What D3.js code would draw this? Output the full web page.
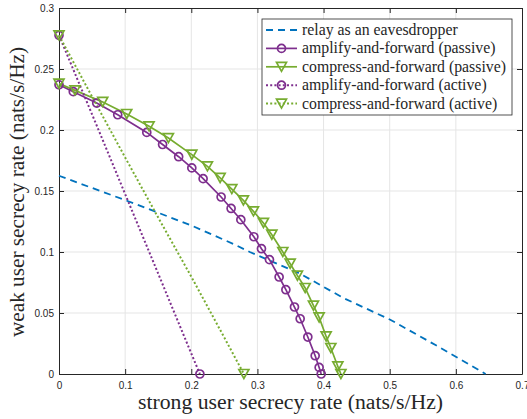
<!DOCTYPE html>
<html>
<head>
<meta charset="utf-8">
<script src="https://cdn.jsdelivr.net/npm/d3@7"></script>
<style>
body { margin: 0; background: #fff; }
.tick text { font-family: "Liberation Sans", Arial, sans-serif; font-size: 10px; fill: #262626; }
</style>
</head>
<body>
<div id="chart"></div>
<script>
var w = 527;
var h = 419;
var margin = {top: 8, right: 5, bottom: 45, left: 59};

// data (x = strong user rate, y = weak user rate)
var eveX = [0, 0.05, 0.1047, 0.2008, 0.266, 0.2885, 0.3646, 0.43, 0.5008, 0.57, 0.645];
var eveY = [0.1625, 0.1525, 0.1416, 0.1216, 0.106, 0.1, 0.0822, 0.0623, 0.0445, 0.0235, 0];

var afPassiveX = [0, 0.0216, 0.057, 0.0888, 0.1327, 0.1566, 0.1809, 0.2008, 0.2179, 0.2451, 0.2602, 0.2749,
    0.2946, 0.3061, 0.3182, 0.3328, 0.343, 0.356, 0.3646, 0.3762, 0.3873, 0.3933, 0.3964];
var afPassiveY = [0.2371, 0.2314, 0.2221, 0.2125, 0.198, 0.1881, 0.1781, 0.1689, 0.1601, 0.1451, 0.1357, 0.1265,
    0.1125, 0.1027, 0.0937, 0.0795, 0.0691, 0.0549, 0.0453, 0.0303, 0.015, 0.0054, 0];

var cfPassiveX = [0, 0.0242, 0.0661, 0.1024, 0.1362, 0.1654, 0.2008, 0.2244, 0.2436, 0.2613, 0.2788, 0.294,
    0.3091, 0.3218, 0.3384, 0.3495, 0.3605, 0.3722, 0.3847, 0.3933, 0.4039, 0.411, 0.4216, 0.4262];
var cfPassiveY = [0.238, 0.2325, 0.223, 0.2131, 0.203, 0.1934, 0.1798, 0.1702, 0.1607, 0.1516, 0.1423, 0.1333,
    0.1238, 0.1142, 0.1, 0.0904, 0.0806, 0.0705, 0.056, 0.0464, 0.0308, 0.0213, 0.0062, 0];

var afActiveX = [0, 0.05, 0.1, 0.15, 0.2, 0.213];
var afActiveY = [0.2776, 0.2128, 0.1475, 0.0822, 0.0168, 0];

var cfActiveX = [0, 0.05, 0.1, 0.15, 0.2, 0.25, 0.2795];
var cfActiveY = [0.2776, 0.2273, 0.1775, 0.1282, 0.0798, 0.0298, 0];

var xTicks = [0, 0.1, 0.2, 0.3, 0.4, 0.5, 0.6, 0.7];
var yTicks = [0, 0.05, 0.1, 0.15, 0.2, 0.25, 0.3];

var seriesNames = ["relay as an eavesdropper", "amplify-and-forward (passive)", "compress-and-forward (passive)",
    "amplify-and-forward (active)", "compress-and-forward (active)"];

var blue = "#0072BD", purple = "#7E2F8E", green = "#77AC30";

function zip(xs, ys) {
    return xs.map(function(x, i) { return {x: x, y: ys[i]}; });
}

var series = [
    {name: seriesNames[0], data: zip(eveX, eveY), color: blue, dash: "7,5", width: 1.8, marker: "none", ends: false},
    {name: seriesNames[1], data: zip(afPassiveX, afPassiveY), color: purple, dash: null, width: 1.7, marker: "circle", ends: false},
    {name: seriesNames[2], data: zip(cfPassiveX, cfPassiveY), color: green, dash: null, width: 1.7, marker: "tri", ends: false},
    {name: seriesNames[3], data: zip(afActiveX, afActiveY), color: purple, dash: "2,2.2", width: 2, marker: "circle", ends: true},
    {name: seriesNames[4], data: zip(cfActiveX, cfActiveY), color: green, dash: "2,2.2", width: 2, marker: "tri", ends: true}
];

var svg = d3.select("#chart").append("svg")
    .attr("width", w)
    .attr("height", h);

var xScale = d3.scaleLinear().domain([0, 0.7]).range([margin.left, w - margin.right]);
var yScale = d3.scaleLinear().domain([0, 0.3]).range([h - margin.bottom, margin.top]);

var fmt = d3.format("~g");

// grid
svg.append("g").selectAll("line.gx")
    .data(xTicks.slice(1, -1))
    .enter().append("line")
    .attr("x1", function(d) { return xScale(d); })
    .attr("x2", function(d) { return xScale(d); })
    .attr("y1", yScale(0))
    .attr("y2", yScale(0.3))
    .attr("stroke", "#e5e5e5")
    .attr("stroke-width", 1);

svg.append("g").selectAll("line.gy")
    .data(yTicks.slice(1, -1))
    .enter().append("line")
    .attr("y1", function(d) { return yScale(d); })
    .attr("y2", function(d) { return yScale(d); })
    .attr("x1", xScale(0))
    .attr("x2", xScale(0.7))
    .attr("stroke", "#e5e5e5")
    .attr("stroke-width", 1);

// axes (ticks inward, box on)
var xAxis = d3.axisBottom(xScale).tickValues(xTicks).tickFormat(fmt).tickSizeInner(-5).tickSizeOuter(0).tickPadding(8);
var yAxis = d3.axisLeft(yScale).tickValues(yTicks).tickFormat(fmt).tickSizeInner(-5).tickSizeOuter(0).tickPadding(5);
var xTop = d3.axisTop(xScale).tickValues(xTicks).tickFormat("").tickSizeInner(-5).tickSizeOuter(0);
var yRight = d3.axisRight(yScale).tickValues(yTicks).tickFormat("").tickSizeInner(-5).tickSizeOuter(0);

svg.append("g").attr("transform", "translate(0," + yScale(0) + ")").call(xAxis);
svg.append("g").attr("transform", "translate(" + xScale(0) + ",0)").call(yAxis);
svg.append("g").attr("transform", "translate(0," + yScale(0.3) + ")").call(xTop);
svg.append("g").attr("transform", "translate(" + xScale(0.7) + ",0)").call(yRight);

svg.selectAll(".domain").attr("stroke", "#262626").attr("stroke-width", 1);
svg.selectAll(".tick line").attr("stroke", "#262626");

// axis labels
svg.append("text")
    .attr("x", (xScale(0) + xScale(0.7)) / 2)
    .attr("y", 409)
    .attr("text-anchor", "middle")
    .attr("textLength", 305)
    .attr("lengthAdjust", "spacingAndGlyphs")
    .style("font-family", "'Liberation Serif', 'Times New Roman', serif")
    .style("font-size", "20px")
    .attr("fill", "#262626")
    .text("strong user secrecy rate (nats/s/Hz)");

svg.append("text")
    .attr("transform", "translate(24," + ((yScale(0) + yScale(0.3)) / 2 + 1) + ") rotate(-90)")
    .attr("text-anchor", "middle")
    .attr("textLength", 290)
    .attr("lengthAdjust", "spacingAndGlyphs")
    .style("font-family", "'Liberation Serif', 'Times New Roman', serif")
    .style("font-size", "20px")
    .attr("fill", "#262626")
    .text("weak user secrecy rate (nats/s/Hz)");

// lines
var line = d3.line()
    .x(function(d) { return xScale(d.x); })
    .y(function(d) { return yScale(d.y); });

var plot = svg.append("g");

series.forEach(function(s) {
    plot.append("path")
        .datum(s.data)
        .attr("d", line)
        .attr("fill", "none")
        .attr("stroke", s.color)
        .attr("stroke-width", s.width)
        .attr("stroke-dasharray", s.dash);
});

function drawMarker(g, kind, color) {
    if (kind === "circle") {
        g.append("circle").attr("r", 4).attr("fill", "none").attr("stroke", color).attr("stroke-width", 1.7);
    } else if (kind === "tri") {
        g.append("path").attr("d", "M-5,-4.5L5,-4.5L0,4.5Z").attr("fill", "none").attr("stroke", color).attr("stroke-width", 1.7)
            .attr("stroke-linejoin", "miter");
    }
}

series.forEach(function(s) {
    if (s.marker === "none") return;
    var pts = s.ends ? [s.data[0], s.data[s.data.length - 1]] : s.data;
    pts.forEach(function(d) {
        var g = plot.append("g").attr("transform", "translate(" + xScale(d.x) + "," + yScale(d.y) + ")");
        drawMarker(g, s.marker, s.color);
    });
});

// legend
var legend = svg.append("g").attr("transform", "translate(262,19)");
legend.append("rect")
    .attr("width", 250)
    .attr("height", 96)
    .attr("fill", "#fff")
    .attr("stroke", "#262626")
    .attr("stroke-width", 0.8);

var rows = legend.selectAll("g.row")
    .data(series)
    .enter().append("g")
    .attr("transform", function(d, i) { return "translate(0," + (11 + 18.4 * i) + ")"; });

rows.append("line")
    .attr("x1", 4)
    .attr("x2", 35)
    .attr("stroke", function(d) { return d.color; })
    .attr("stroke-width", function(d) { return d.width; })
    .attr("stroke-dasharray", function(d) { return d.dash; });

rows.each(function(d) {
    if (d.marker === "none") return;
    var g = d3.select(this).append("g").attr("transform", "translate(19.5,0)");
    drawMarker(g, d.marker, d.color);
});

rows.append("text")
    .attr("x", 40)
    .attr("y", 5)
    .style("font-family", "'Liberation Serif', 'Times New Roman', serif")
    .style("font-size", "15.8px")
    .attr("fill", "#262626")
    .text(function(d) { return d.name; });
</script>
</body>
</html>
